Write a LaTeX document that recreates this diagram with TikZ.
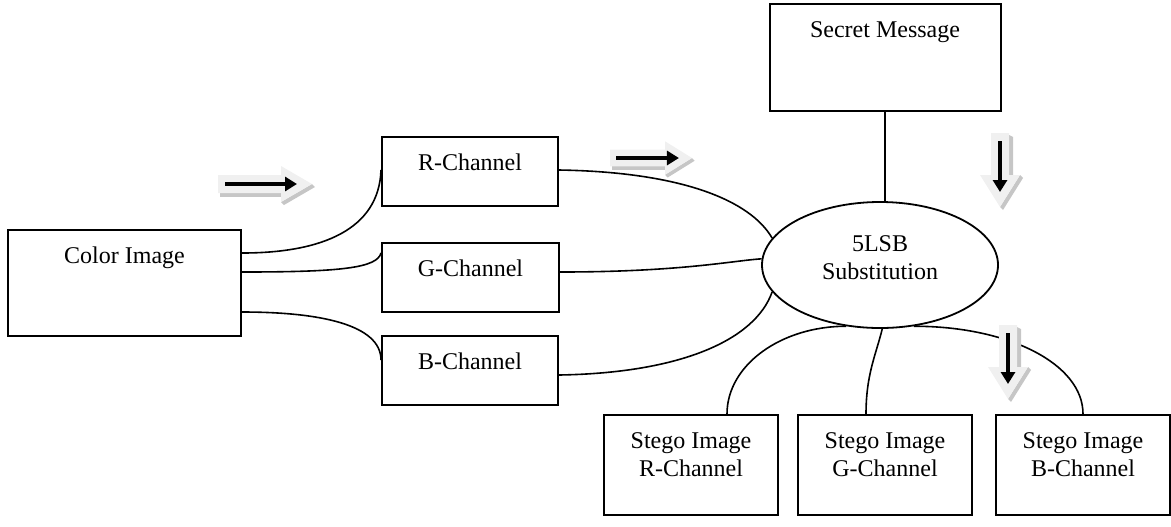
\documentclass[tikz,border=0pt]{standalone}
\usepackage{fontspec}
\setmainfont{Liberation Serif}
\usetikzlibrary{arrows.meta,shapes.geometric}
\begin{document}
\begin{tikzpicture}[x=0.5pt,y=-0.5pt,
  txt/.style={font=\fontsize{12}{14}\selectfont},
  box/.style={draw, line width=1pt, inner sep=0pt, text height=16.5pt, align=center, txt},
  conn/.style={line width=0.8pt},
  face/.style={fill=gray!12},
  side/.style={fill=gray!45},
  inner arrow/.style={line width=2pt, -{Triangle[length=6pt,width=7pt]}},
  blockR/.pic={
    \fill[side] (-92,9) -- (-31,9) -- (-31,13) -- (-92,13) -- cycle;
    \fill[side] (-31,18) -- (0,0) -- (3,3) -- (-28,21) -- cycle;
    \fill[face] (0,0) -- (-31,-18) -- (-31,-9) -- (-94,-9) -- (-94,9) -- (-31,9) -- (-31,18) -- cycle;
    \draw[inner arrow] (-87,0) -- (-15,0);
  },
  blockD/.pic={
    \fill[side] (9,-72) -- (13,-70) -- (13,-32) -- (9,-32) -- cycle;
    \fill[side] (20,-32) -- (23,-29) -- (3,3) -- (0,0) -- cycle;
    \fill[face] (0,0) -- (-20,-32) -- (-9,-32) -- (-9,-74) -- (9,-74) -- (9,-32) -- (20,-32) -- cycle;
    \draw[inner arrow] (0,-66) -- (0,-15);
  }
]
\useasboundingbox (0,0) rectangle (1171,526);

% boxes
\node[box, minimum width=116.5pt, text depth=36.5pt] (ci) at (124.5,283) {Color Image};
\node[box, minimum width=88pt, text depth=18pt] (rc) at (470,171.5) {R-Channel};
\node[box, minimum width=88.5pt, text depth=18pt] (gc) at (470.5,277.5) {G-Channel};
\node[box, minimum width=88pt, text depth=18pt] (bc) at (470,370.5) {B-Channel};
\node[box, minimum width=115.5pt, text depth=37pt] (sm) at (885,57.5) {Secret Message};
\node[draw, ellipse, line width=0.9pt, minimum width=118pt, minimum height=63pt, inner sep=0pt,
      text height=8pt, text depth=22pt, txt] (lsb) at (880,265)
      {\begin{tabular}[t]{@{}c@{}}5LSB\\Substitution\end{tabular}};
\node[box, minimum width=87pt, text depth=33.5pt] (s1) at (691,465)
      {\begin{tabular}[t]{@{}c@{}}Stego Image\\R-Channel\end{tabular}};
\node[box, minimum width=87pt, text depth=33.5pt] (s2) at (885,465)
      {\begin{tabular}[t]{@{}c@{}}Stego Image\\G-Channel\end{tabular}};
\node[box, minimum width=87pt, text depth=33.5pt] (s3) at (1083,465)
      {\begin{tabular}[t]{@{}c@{}}Stego Image\\B-Channel\end{tabular}};

% connectors
\draw[conn] ([yshift=15pt]ci.east) .. controls +(79,0) and +(-2,60) .. ([yshift=0.75pt]rc.west);
\draw[conn] ([yshift=5.5pt]ci.east) .. controls +(99,0) and +(-4,15) .. ([yshift=12.25pt]gc.west);
\draw[conn] ([yshift=-14.5pt]ci.east) .. controls +(79,0) and +(0,-35) .. ([yshift=5.25pt]bc.west);
\draw[conn] ([yshift=0.75pt]rc.east) .. controls +(122,2) and +(-22,-38) .. (lsb.166);
\draw[conn] ([yshift=2.75pt]gc.east) .. controls +(120,0) and +(-30,2) .. (lsb.177);
\draw[conn] ([yshift=-2.25pt]bc.east) .. controls +(122,-2) and +(-17,48) .. (lsb.194);
\draw[conn] (sm.south) -- (sm.south |- lsb.north);
\draw[conn] (lsb.241) .. controls +(-65,0) and +(0,-49) .. ([xshift=18pt]s1.north);
\draw[conn] (lsb.272) .. controls +(-6,25) and +(0,-40) .. ([xshift=-9.5pt]s2.north);
\draw[conn] (lsb.-61) .. controls +(95,0) and +(0,-50) .. (s3.north);

% block arrows
\pic at (312,184) {blockR};
\pic[xscale=0.87,yscale=0.93] at (692,158) {blockR};
\pic at (1000,207) {blockD};
\pic at (1008,399) {blockD};
\end{tikzpicture}
\end{document}
